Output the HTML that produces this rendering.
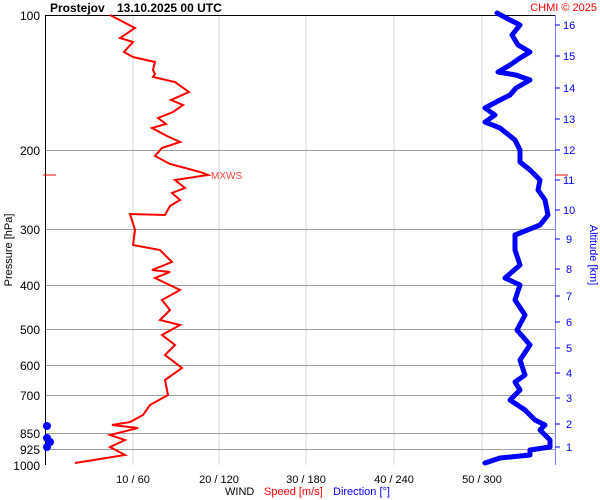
<!DOCTYPE html>
<html><head><style>body{margin:0;background:#fff}svg{display:block}text{font-family:"Liberation Sans",sans-serif}</style></head><body>
<svg width="600" height="500" viewBox="0 0 600 500" xmlns="http://www.w3.org/2000/svg">
<rect width="600" height="500" fill="#fff"/>
<g stroke="#d8d8d8" stroke-width="1">
<line x1="133" y1="15" x2="133" y2="465"/><line x1="219" y1="15" x2="219" y2="465"/><line x1="306" y1="15" x2="306" y2="465"/><line x1="394" y1="15" x2="394" y2="465"/><line x1="482" y1="15" x2="482" y2="465"/>
</g>
<g stroke="#a0a0a0" stroke-width="1">
<line x1="45" y1="150.5" x2="555" y2="150.5"/><line x1="45" y1="229.5" x2="555" y2="229.5"/><line x1="45" y1="285.5" x2="555" y2="285.5"/><line x1="45" y1="329.5" x2="555" y2="329.5"/><line x1="45" y1="365.5" x2="555" y2="365.5"/><line x1="45" y1="395.5" x2="555" y2="395.5"/><line x1="45" y1="433.5" x2="555" y2="433.5"/><line x1="45" y1="449.5" x2="555" y2="449.5"/>
</g>
<line x1="45.5" y1="15" x2="45.5" y2="465" stroke="#000"/>
<line x1="45" y1="15.5" x2="555" y2="15.5" stroke="#000"/>
<line x1="555.5" y1="15" x2="555.5" y2="465" stroke="#8080ff"/>
<g font-size="12" fill="#000" text-anchor="end">
<text x="40" y="20">100</text><text x="40" y="155">200</text><text x="40" y="234">300</text><text x="40" y="290">400</text><text x="40" y="334">500</text><text x="40" y="370">600</text><text x="40" y="400">700</text><text x="40" y="438">850</text><text x="40" y="454">925</text><text x="40" y="470">1000</text>
</g>
<text x="12" y="250" font-size="11" transform="rotate(-90 12 250)" text-anchor="middle">Pressure [hPa]</text>
<g font-size="11" text-anchor="middle"><text x="133" y="483">10 / 60</text><text x="219" y="483">20 / 120</text><text x="306" y="483">30 / 180</text><text x="394" y="483">40 / 240</text><text x="482" y="483">50 / 300</text></g>
<text x="225" y="495" font-size="11">WIND</text><text x="264" y="495" font-size="11" fill="#f00">Speed [m/s]</text><text x="333" y="495" font-size="11" fill="#00f">Direction [°]</text>
<text x="50" y="12" font-size="12" font-weight="bold">Prostejov</text>
<text x="117" y="12" font-size="12" font-weight="bold">13.10.2025 00 UTC</text>
<text x="597" y="11" font-size="11" fill="#f00" text-anchor="end">CHMI © 2025</text>
<g font-size="11" fill="#00f">
<text x="566" y="451">1</text><text x="566" y="428">2</text><text x="566" y="402">3</text><text x="566" y="377">4</text><text x="566" y="352">5</text><text x="566" y="326">6</text><text x="566" y="300">7</text><text x="566" y="273">8</text><text x="566" y="243">9</text><text x="563" y="214">10</text><text x="563" y="184">11</text><text x="563" y="154">12</text><text x="563" y="123">13</text><text x="563" y="92">14</text><text x="563" y="60">15</text><text x="563" y="29">16</text>
</g>
<g stroke="#00f"><line x1="555" y1="447" x2="560" y2="447"/><line x1="555" y1="424" x2="560" y2="424"/><line x1="555" y1="398" x2="560" y2="398"/><line x1="555" y1="373" x2="560" y2="373"/><line x1="555" y1="348" x2="560" y2="348"/><line x1="555" y1="322" x2="560" y2="322"/><line x1="555" y1="296" x2="560" y2="296"/><line x1="555" y1="269" x2="560" y2="269"/><line x1="555" y1="239" x2="560" y2="239"/><line x1="555" y1="210" x2="560" y2="210"/><line x1="555" y1="180" x2="560" y2="180"/><line x1="555" y1="150" x2="560" y2="150"/><line x1="555" y1="119" x2="560" y2="119"/><line x1="555" y1="88" x2="560" y2="88"/><line x1="555" y1="56" x2="560" y2="56"/><line x1="555" y1="25" x2="560" y2="25"/></g>
<text x="590" y="255" font-size="11" fill="#00f" transform="rotate(90 590 255)" text-anchor="middle">Altitude [km]</text>
<line x1="43" y1="175" x2="56" y2="175" stroke="#f00"/><line x1="555" y1="175" x2="568" y2="175" stroke="#f00"/>
<text x="211" y="179" font-size="10" fill="#f44">MXWS</text>
<polyline fill="none" stroke="#f00" stroke-width="2" points="110,15 135,28 120,38 133,42 124,52 133,57 155,62 153,70 155,74 153,77 175,82 189,92 171,100 183,105 173,112 158,118 166,124 152,128 167,136 180,142 162,148 155,156 170,164 200,172 208,175 175,180 185,188 172,193 180,200 170,206 165,215 130,214 135,230 133,245 160,250 172,262 152,270 170,272 155,278 180,290 162,300 170,310 160,320 180,325 162,335 175,345 165,355 182,368 165,380 168,395 150,405 143,415 130,422 112,425 138,428 110,435 125,440 110,447 125,455 75,463"/>
<polyline fill="none" stroke="#00f" stroke-width="5" stroke-linejoin="round" stroke-linecap="round" points="497,13 510,20 520,25 512,35 518,45 530,52 520,58 510,65 498,72 516,75 530,80 516,88 510,95 500,100 485,108 495,115 485,122 500,128 515,140 520,150 520,162 530,170 540,180 538,190 545,200 548,215 540,225 515,235 515,250 520,265 505,278 520,285 515,300 525,315 517,330 530,345 520,360 525,375 515,382 520,390 510,400 525,410 535,420 545,425 540,430 550,440 550,447 530,450 530,455 500,458 485,463"/>
<g fill="#00f"><circle cx="47" cy="426" r="4"/><circle cx="47" cy="438" r="4"/><circle cx="50" cy="442" r="4"/><circle cx="47" cy="447" r="4"/></g>
</svg>
</body></html>
